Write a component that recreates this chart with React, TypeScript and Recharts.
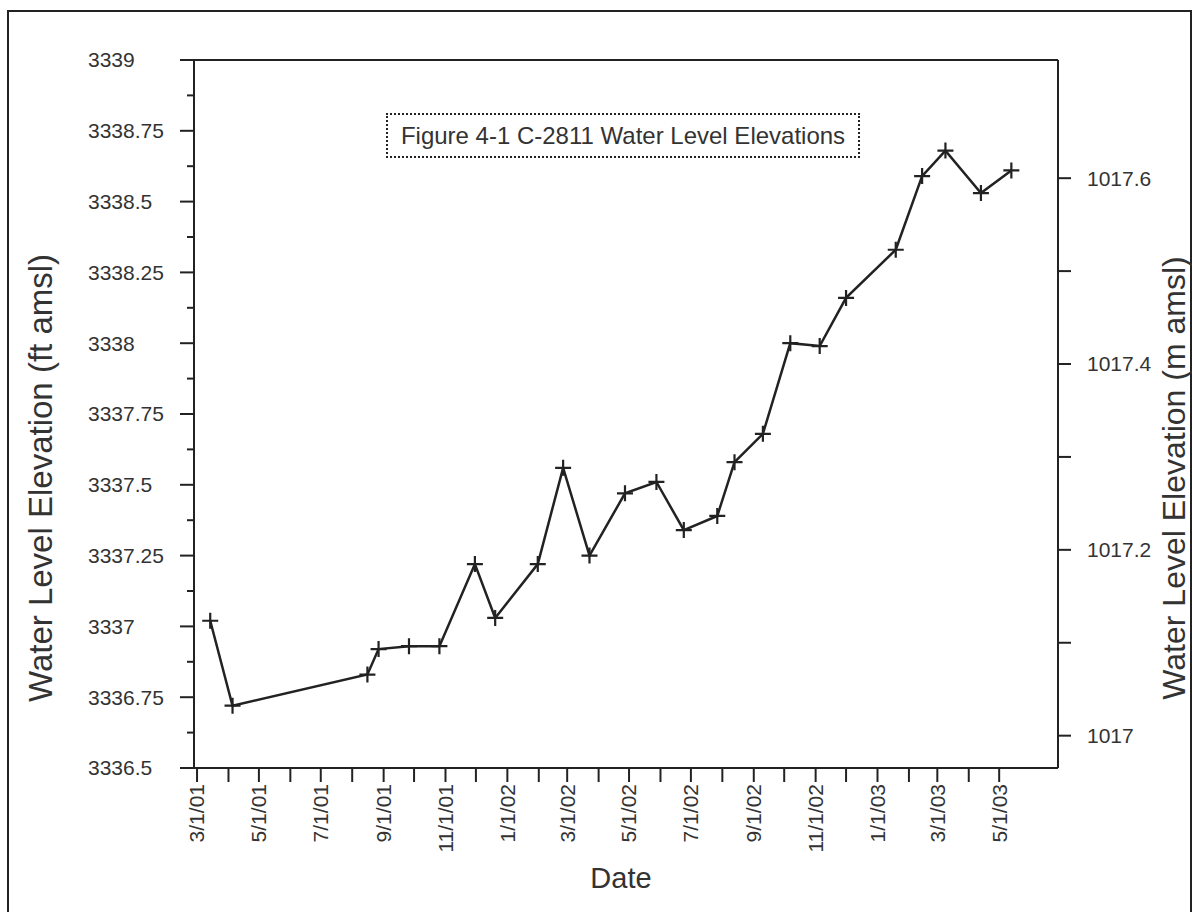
import { LineChart, Line, XAxis, YAxis, ReferenceLine } from 'recharts'

// sampling dates and water level elevations (ft amsl)
const sampleDates = [
  '2001-03-14', '2001-04-05', '2001-08-16', '2001-08-27', '2001-09-26',
  '2001-10-26', '2001-11-30', '2001-12-20', '2002-01-31', '2002-02-25',
  '2002-03-23', '2002-04-27', '2002-05-28', '2002-06-24', '2002-07-27',
  '2002-08-13', '2002-09-10', '2002-10-07', '2002-11-05', '2002-12-01',
  '2003-01-19', '2003-02-14', '2003-03-09', '2003-04-13', '2003-05-13',
]
const levelFt = [
  3337.02, 3336.72, 3336.83, 3336.92, 3336.93,
  3336.93, 3337.22, 3337.03, 3337.22, 3337.56,
  3337.25, 3337.47, 3337.51, 3337.34, 3337.39,
  3337.58, 3337.68, 3338.0, 3337.99, 3338.16,
  3338.33, 3338.59, 3338.68, 3338.53, 3338.61,
]

const leftTickLabels = [
  '3336.5', '3336.75', '3337', '3337.25', '3337.5', '3337.75',
  '3338', '3338.25', '3338.5', '3338.75', '3339',
]
const rightTickLabels = ['1017', '1017.2', '1017.4', '1017.6']
const xTickLabels = [
  '3/1/01', '5/1/01', '7/1/01', '9/1/01', '11/1/01', '1/1/02', '3/1/02',
  '5/1/02', '7/1/02', '9/1/02', '11/1/02', '1/1/03', '3/1/03', '5/1/03',
]

const FT_TO_M = 0.3048
const INK = '#222'
const TEXT = '#333'
const FONT = '"Liberation Sans", Arial, sans-serif'

const toTime = (s: string) => {
  const [y, m, d] = s.split('-').map(Number)
  return Date.UTC(y, m - 1, d)
}
const parseLabel = (s: string) => {
  const [m, d, y] = s.split('/').map(Number)
  return Date.UTC(2000 + y, m - 1, d)
}
const fmtDate = (t: number) => {
  const d = new Date(t)
  return `${d.getUTCMonth() + 1}/${d.getUTCDate()}/${String(d.getUTCFullYear()).slice(2)}`
}

const data = sampleDates.map((d, i) => ({ t: toTime(d), ft: levelFt[i] }))

const leftMajor = leftTickLabels.map(Number)
const leftTicks: number[] = []
leftMajor.forEach((v, i) => {
  leftTicks.push(v)
  if (i < leftMajor.length - 1) leftTicks.push((v + leftMajor[i + 1]) / 2)
})

const rightMajor = rightTickLabels.map(Number)
const rightTicks: number[] = []
rightMajor.forEach((v, i) => {
  rightTicks.push(v)
  if (i < rightMajor.length - 1) rightTicks.push((v + rightMajor[i + 1]) / 2)
})

// a tick every month, labels on every other one
const xMajor = xTickLabels.map(parseLabel)
const xTicks: number[] = []
xMajor.forEach((t, i) => {
  xTicks.push(t)
  if (i < xMajor.length - 1) {
    const d = new Date(t)
    xTicks.push(Date.UTC(d.getUTCFullYear(), d.getUTCMonth() + 1, 1))
  }
})

const leftDomain: [number, number] = [leftMajor[0], leftMajor[leftMajor.length - 1]]
const rightDomain: [number, number] = [leftDomain[0] * FT_TO_M, leftDomain[1] * FT_TO_M]
const xDomain: [number, number] = [toTime('2001-02-26'), toTime('2003-06-28')]

const near = (a: number, b: number) => Math.abs(a - b) < 1e-6

const LeftTick = (props: any) => {
  const { x, y, payload } = props
  const idx = leftMajor.findIndex((v) => near(v, payload.value))
  const major = idx >= 0
  return (
    <g>
      <line x1={x - (major ? 14 : 7)} y1={y} x2={x} y2={y} stroke={INK} strokeWidth={2} />
      {major && (
        <text x={x - 106} y={y} dy="0.35em" textAnchor="start" fill={TEXT} fontSize={21} fontFamily={FONT}>
          {leftTickLabels[idx]}
        </text>
      )}
    </g>
  )
}

const RightTick = (props: any) => {
  const { x, y, payload } = props
  const idx = rightMajor.findIndex((v) => near(v, payload.value))
  return (
    <g>
      <line x1={x} y1={y} x2={x + 13} y2={y} stroke={INK} strokeWidth={2} />
      {idx >= 0 && (
        <text x={x + 29} y={y} dy="0.35em" textAnchor="start" fill={TEXT} fontSize={21} fontFamily={FONT}>
          {rightTickLabels[idx]}
        </text>
      )}
    </g>
  )
}

const BottomTick = (props: any) => {
  const { x, y, payload } = props
  const label = fmtDate(payload.value)
  const show = xTickLabels.includes(label)
  return (
    <g>
      <line x1={x} y1={y} x2={x} y2={y + 14} stroke={INK} strokeWidth={2} />
      {show && (
        <text
          x={x}
          y={y + 16}
          dy="0.35em"
          textAnchor="end"
          transform={`rotate(-90, ${x}, ${y + 16})`}
          fill={TEXT}
          fontSize={21}
          fontFamily={FONT}
        >
          {label}
        </text>
      )}
    </g>
  )
}

const PlusDot = (props: any) => {
  const { cx, cy, index } = props
  if (cx == null || cy == null) return null
  return (
    <path
      key={`p${index}`}
      d={`M${cx - 8},${cy}H${cx + 8}M${cx},${cy - 8}V${cy + 8}`}
      stroke={INK}
      strokeWidth={2.2}
      fill="none"
    />
  )
}

const sideTitle = (text: string, dx: number, size: number) => (props: any) => {
  const { x, y, height } = props.viewBox
  const cx = x + dx
  const cy = y + height / 2 + 64
  return (
    <text
      x={cx}
      y={cy}
      dy="0.35em"
      textAnchor="middle"
      transform={`rotate(-90, ${cx}, ${cy})`}
      fill={TEXT}
      fontSize={size}
      fontFamily={FONT}
    >
      {text}
    </text>
  )
}

const dateTitle = (props: any) => {
  const { x, y, width } = props.viewBox
  return (
    <text x={x + width / 2 - 5} y={y + 110} dy="0.35em" textAnchor="middle" fill={TEXT} fontSize={29} fontFamily={FONT}>
      Date
    </text>
  )
}

export default function App() {
  return (
    <div
      style={{
        position: 'absolute',
        left: 0,
        top: 0,
        width: 1192,
        height: 912,
        overflow: 'hidden',
        background: '#fff',
      }}
    >
      <div
        style={{
          position: 'absolute',
          left: 7,
          top: 10,
          width: 1181,
          height: 940,
          border: `2px solid ${INK}`,
        }}
      />
      <LineChart width={1192} height={912} data={data} margin={{ top: 60, right: 0, left: 0, bottom: 0 }}>
        <XAxis
          dataKey="t"
          type="number"
          scale="time"
          domain={xDomain}
          ticks={xTicks}
          interval={0}
          height={144}
          tickSize={0}
          tickMargin={0}
          tickLine={false}
          axisLine={{ stroke: INK, strokeWidth: 2 }}
          tick={BottomTick}
          label={{ content: dateTitle }}
        />
        <YAxis
          yAxisId="left"
          orientation="left"
          domain={leftDomain}
          ticks={leftTicks}
          interval={0}
          width={194}
          tickSize={0}
          tickMargin={0}
          tickLine={false}
          axisLine={{ stroke: INK, strokeWidth: 2 }}
          tick={LeftTick}
          allowDataOverflow
          label={{ content: sideTitle('Water Level Elevation (ft amsl)', 40, 33) }}
        />
        <YAxis
          yAxisId="right"
          orientation="right"
          domain={rightDomain}
          ticks={rightTicks}
          interval={0}
          width={134}
          tickSize={0}
          tickMargin={0}
          tickLine={false}
          axisLine={{ stroke: INK, strokeWidth: 2 }}
          tick={RightTick}
          allowDataOverflow
          label={{ content: sideTitle('Water Level Elevation (m amsl)', 116, 32) }}
        />
        <ReferenceLine yAxisId="left" y={leftDomain[1]} stroke={INK} strokeWidth={2} />
        <Line
          yAxisId="left"
          type="linear"
          dataKey="ft"
          stroke={INK}
          strokeWidth={2.5}
          dot={PlusDot}
          activeDot={false}
          isAnimationActive={false}
        />
      </LineChart>
      <div
        style={{
          position: 'absolute',
          left: 386,
          top: 113,
          width: 470,
          height: 41,
          border: `2px dotted ${INK}`,
          display: 'flex',
          alignItems: 'center',
          justifyContent: 'center',
          fontFamily: FONT,
          fontSize: 24,
          color: TEXT,
          background: '#fff',
        }}
      >
        Figure 4-1 C-2811 Water Level Elevations
      </div>
    </div>
  )
}
